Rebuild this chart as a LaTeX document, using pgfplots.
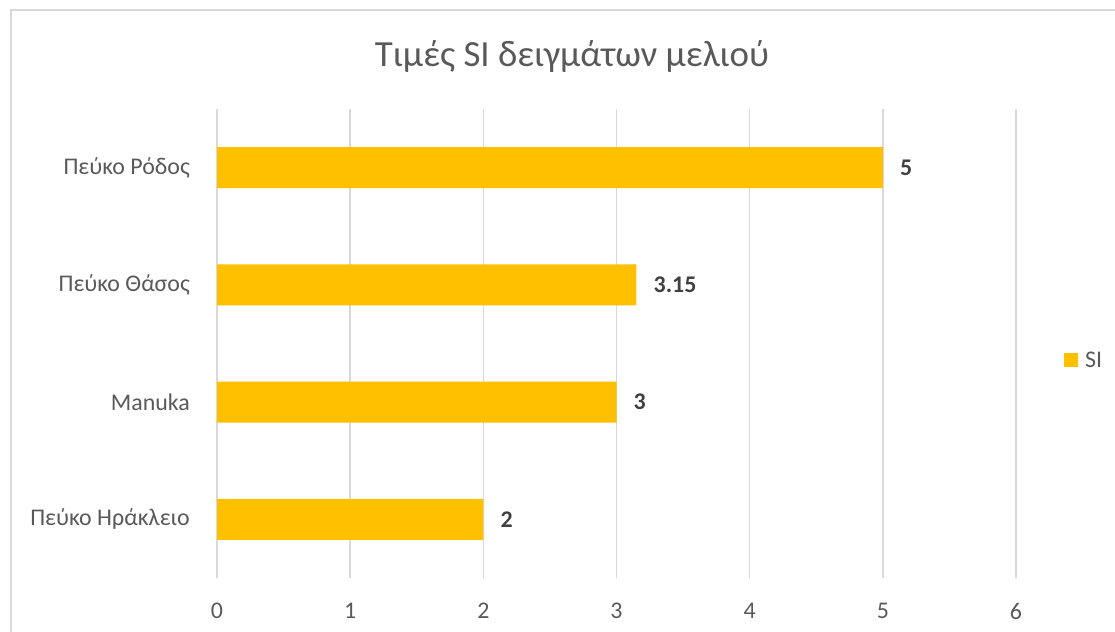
\documentclass[border=0pt]{standalone}
\usepackage{fontspec}
\setmainfont{Carlito}
\usepackage{pgfplots}
\pgfplotsset{compat=1.18}
\definecolor{barc}{HTML}{FFC000}
\definecolor{txt}{HTML}{595959}
\definecolor{lbl}{HTML}{404040}
\definecolor{grd}{HTML}{D9D9D9}

\begin{document}
\begin{tikzpicture}
  \path[use as bounding box] (0,0) rectangle (1115bp,632bp);
  % chart frame (only left and top edges are inside the picture)
  \draw[grd, line width=1.5bp] (11bp,-5bp) -- (11bp,622bp) -- (1120bp,622bp);
  \node[anchor=base, text=txt, font=\fontsize{37}{40}\selectfont] at (572bp,565bp)
    {Τιμές SI δειγμάτων μελιού};
  \begin{axis}[
      at={(217bp,54bp)}, anchor=south west,
      scale only axis,
      width=799bp, height=469bp,
      xbar, bar width=41bp,
      xmin=0, xmax=6,
      ymin=-0.5, ymax=3.5,
      xtick={0,1,2,3,4,5,6},
      ytick={0,1,2,3},
      yticklabels={Πεύκο Ηράκλειο, Manuka, Πεύκο Θάσος, Πεύκο Ρόδος},
      axis line style={draw=none},
      major tick length=0pt,
      xmajorgrids, ymajorgrids=false,
      grid style={grd, line width=1.5bp},
      tick label style={text=txt, font=\fontsize{24}{26}\selectfont},
      /pgf/number format/assume math mode=true,
      xticklabel style={inner sep=0pt, anchor=north, yshift=-25bp},
      yticklabel style={inner sep=0pt, anchor=east, xshift=-27bp},
      nodes near coords,
      every node near coord/.append style={text=lbl, inner sep=0pt, xshift=17bp,
        font=\fontsize{24}{26}\selectfont\bfseries,
        /pgf/number format/assume math mode=true},
      legend style={at={(1.060,0.4648)}, anchor=west, draw=none, fill=none,
        inner sep=0pt, text=txt, font=\fontsize{24}{26}\selectfont,
        legend cell align=left},
      legend image code/.code={\fill[barc] (0bp,-7bp) rectangle (14bp,7bp);
        \path (0bp,0bp) -- (19bp,0bp);},
    ]
    \addplot[fill=barc, draw=none] coordinates {(2,0) (3,1) (3.15,2) (5,3)};
    \addlegendentry{SI}
  \end{axis}
\end{tikzpicture}
\end{document}
